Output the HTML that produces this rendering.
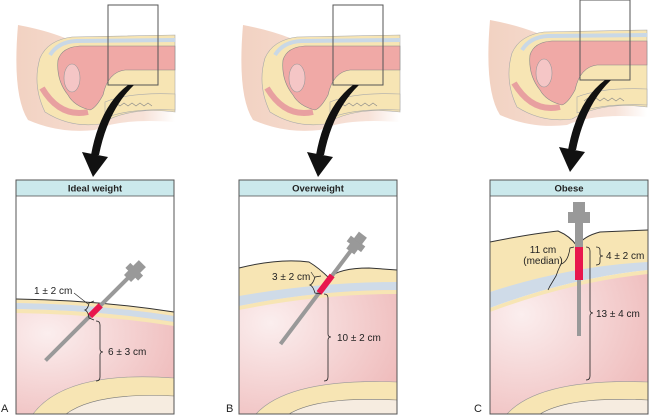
<!DOCTYPE html>
<html><head><style>
body{margin:0;background:#fff;}
svg{display:block;font-family:"Liberation Sans",sans-serif;}
</style></head><body>
<svg width="650" height="415" viewBox="0 0 650 415" xmlns="http://www.w3.org/2000/svg">
<defs>
<radialGradient id="pk" cx="0.2" cy="0.3" r="0.9"><stop offset="0" stop-color="#fbeeee"/><stop offset="1" stop-color="#efbcbc"/></radialGradient>
<linearGradient id="skin" x1="0" x2="1"><stop offset="0" stop-color="#f2d2c2"/><stop offset="0.8" stop-color="#f7e2d8"/><stop offset="1" stop-color="#fff"/></linearGradient>
<g id="top">
<path d="M18,25 Q45,30 65,38 L175,36 L175,122 Q120,118 95,130 Q60,134 28,120 Q12,95 18,25 Z" fill="url(#skin)"/>
<path d="M40,58 Q48,40 72,37 L175,35 L175,112 Q130,106 100,124 Q70,128 45,112 Q32,85 40,58 Z" fill="#f7e5b4" stroke="#aaa" stroke-width="0.6"/>
<path d="M50,55 Q58,42 76,41 L175,40" fill="none" stroke="#c9d8e6" stroke-width="4"/>
<path d="M58,60 Q62,47 80,46 L175,46 L175,70 L125,70 Q108,72 103,95 Q96,108 90,110 Q74,106 68,95 Q56,80 58,60 Z" fill="#f0a9a6" stroke="#888" stroke-width="0.6"/>
<ellipse cx="72" cy="78" rx="8" ry="14" fill="#f5c6c6" stroke="#999" stroke-width="0.6"/>
<path d="M42,88 Q60,118 88,112" fill="none" stroke="#e8a0a0" stroke-width="6"/>
<path d="M105,102 Q130,92 175,94 L175,110 Q130,108 105,118 Z" fill="#f7e5b4" stroke="#aaa" stroke-width="0.6"/>
<path d="M112,106 l4,-3 4,3 4,-3 4,3 4,-3 4,3 4,-3 4,3 4,-3 4,3" fill="none" stroke="#888" stroke-width="0.6"/>
</g>
</defs>

<use href="#top"/>
<rect x="108" y="5" width="50" height="80" fill="none" stroke="#555" stroke-width="1"/>
<use href="#top" x="225"/>
<rect x="333" y="5" width="50" height="80" fill="none" stroke="#555" stroke-width="1"/>
<g transform="translate(472,-5)"><use href="#top"/></g>
<rect x="580" y="0" width="50" height="80" fill="none" stroke="#555" stroke-width="1"/>

<g fill="#111">
<path d="M134,85 Q108,110 99,155 L91,155 Q100,106 128,85 Z"/><path d="M82,152 L108,157 L93,177 Z"/>
<path d="M359,85 Q333,110 324,155 L316,155 Q325,106 353,85 Z"/><path d="M307,152 L333,157 L318,177 Z"/>
<path d="M611,80 Q585,105 576,150 L568,150 Q577,101 605,80 Z"/><path d="M559,147 L585,152 L570,172 Z"/>
</g>

<!-- Panel A -->
<g transform="translate(16,180)">
<rect x="0" y="0" width="158" height="234" fill="#fff"/>
<path d="M0,119 Q80,120 158,132 L158,234 L0,234 Z" fill="url(#pk)"/>
<path d="M0,119 Q80,120 158,132 L158,136 Q80,124 0,123 Z" fill="#f7e5b4"/>
<path d="M0,123 Q80,124 158,136 L158,142 Q80,130 0,129 Z" fill="#cfdbe8"/>
<path d="M0,129 Q80,130 158,142 L158,146 Q80,134 0,133 Z" fill="#f7e5b4"/>
<path d="M0,119 Q80,120 158,132" fill="none" stroke="#333" stroke-width="1"/>
<path d="M17,234 Q50,190 158,198 L158,234 Z" fill="#f7e5b4" stroke="#999" stroke-width="0.6"/>
<path d="M50,234 Q80,212 158,216 L158,234 Z" fill="#f6ece0" stroke="#777" stroke-width="0.6"/>
<g transform="rotate(-45 79 131)">
<rect x="9" y="129" width="118" height="4" fill="#999"/>
<rect x="72" y="128" width="15" height="6" fill="#e8174d"/>
<rect x="125" y="126" width="12" height="10" fill="#999"/>
<rect x="131" y="122" width="7" height="18" fill="#999"/>
<rect x="137" y="126" width="9" height="10" fill="#999"/>
</g>
<path d="M78,121 L73,123 Q72,129 69,130 Q72,131 73,138 L78,140" fill="none" stroke="#222" stroke-width="0.8"/>
<path d="M72,124 L58,113" stroke="#222" stroke-width="0.6"/>
<text x="18" y="114" font-size="10" fill="#222">1 ± 2 cm</text>
<path d="M80,141 Q84,141 84,145 L84,169 Q84,172 87,172 Q84,172 84,175 L84,197 Q84,201 80,201" fill="none" stroke="#222" stroke-width="0.8"/>
<text x="92" y="175" font-size="10" fill="#222">6 ± 3 cm</text>
<rect x="0" y="0" width="158" height="16" fill="#cbe9ec" stroke="#555" stroke-width="0.8"/>
<text x="79" y="11.5" font-size="9.5" font-weight="bold" text-anchor="middle" fill="#222">Ideal weight</text>
<rect x="0" y="0" width="158" height="234" fill="none" stroke="#555" stroke-width="1"/>
</g>
<text x="1" y="412" font-size="11" fill="#222">A</text>

<!-- Panel B -->
<g transform="translate(239,180)">
<rect x="0" y="0" width="158" height="234" fill="#fff"/>
<path d="M0,118 Q80,104 158,104 L158,234 L0,234 Z" fill="url(#pk)"/>
<path d="M0,88 Q40,78 70,82 Q80,88 90,98 Q100,88 130,88 L158,90 L158,105 Q80,104 0,118 Z" fill="#f7e5b4"/>
<path d="M0,88 Q40,78 70,82 Q80,88 90,98 Q100,88 130,88 L158,90" fill="none" stroke="#333" stroke-width="1"/>
<path d="M0,116 Q80,102 158,102 L158,110 Q80,110 0,126 Z" fill="#cfdbe8"/>
<path d="M0,126 Q80,110 158,110 L158,114 Q80,114 0,130 Z" fill="#f7e5b4"/>
<path d="M17,234 Q50,198 158,202 L158,234 Z" fill="#f7e5b4" stroke="#999" stroke-width="0.6"/>
<path d="M50,234 Q80,216 158,220 L158,234 Z" fill="#f6ece0" stroke="#777" stroke-width="0.6"/>
<g transform="rotate(-53 86 105)">
<rect x="12" y="103" width="118" height="4" fill="#999"/>
<rect x="76" y="102" width="22" height="6" fill="#e8174d"/>
<rect x="128" y="100" width="12" height="10" fill="#999"/>
<rect x="134" y="96" width="7" height="18" fill="#999"/>
<rect x="140" y="100" width="9" height="10" fill="#999"/>
</g>
<path d="M82,96 L76,97 Q74,104 71,105 Q74,106 76,113 L82,114" fill="none" stroke="#222" stroke-width="0.8"/>
<path d="M76,98 L72,92" stroke="#222" stroke-width="0.6"/>
<text x="33" y="100" font-size="10" fill="#222">3 ± 2 cm</text>
<path d="M85,114 Q89,114 89,118 L89,154 Q89,157 92,157 Q89,157 89,160 L89,197 Q89,201 85,201" fill="none" stroke="#222" stroke-width="0.8"/>
<text x="98" y="161" font-size="10" fill="#222">10 ± 2 cm</text>
<rect x="0" y="0" width="158" height="16" fill="#cbe9ec" stroke="#555" stroke-width="0.8"/>
<text x="79" y="11.5" font-size="9.5" font-weight="bold" text-anchor="middle" fill="#222">Overweight</text>
<rect x="0" y="0" width="158" height="234" fill="none" stroke="#555" stroke-width="1"/>
</g>
<text x="226" y="412" font-size="11" fill="#222">B</text>

<!-- Panel C -->
<g transform="translate(490,180)">
<rect x="0" y="0" width="158" height="234" fill="#fff"/>
<path d="M0,132 Q80,98 158,92 L158,234 L0,234 Z" fill="url(#pk)"/>
<path d="M0,62 Q40,54 68,51 Q80,56 87,66 Q94,56 110,52 L158,50 L158,84 Q80,88 0,112 Z" fill="#f7e5b4"/>
<path d="M0,62 Q40,54 68,51 Q80,56 87,66 Q94,56 110,52 L158,50" fill="none" stroke="#333" stroke-width="1"/>
<path d="M0,112 Q80,86 158,82 L158,90 Q80,98 0,128 Z" fill="#cfdbe8"/>
<path d="M0,128 Q80,98 158,90 L158,94 Q80,102 0,132 Z" fill="#f7e5b4"/>
<path d="M17,234 Q50,198 158,202 L158,234 Z" fill="#f7e5b4" stroke="#999" stroke-width="0.6"/>
<path d="M50,234 Q80,216 158,220 L158,234 Z" fill="#f6ece0" stroke="#777" stroke-width="0.6"/>
<rect x="87" y="60" width="4" height="96" fill="#999"/>
<rect x="85" y="67" width="8" height="33" fill="#e8174d"/>
<rect x="85" y="43" width="8" height="24" fill="#999"/>
<rect x="78" y="32" width="22" height="11" fill="#999"/>
<rect x="83" y="22" width="12" height="10" fill="#999"/>
<path d="M84,67 L80,68 Q78,82 71,84 Q68,90 66,96 L60,106 L58,110" fill="none" stroke="#222" stroke-width="0.8"/>
<text x="53" y="73" font-size="10" fill="#222" text-anchor="middle">11 cm</text>
<text x="53" y="84" font-size="10" fill="#222" text-anchor="middle">(median)</text>
<path d="M106,67 Q110,67 110,70 L110,74 Q110,76 113,76 Q110,76 110,78 L110,82 Q110,85 106,85" fill="none" stroke="#222" stroke-width="0.8"/>
<text x="116" y="79" font-size="10" fill="#222">4 ± 2 cm</text>
<path d="M96,67 Q100,67 100,71 L100,130 Q100,133 103,133 Q100,133 100,136 L100,196 Q100,200 96,200" fill="none" stroke="#222" stroke-width="0.8"/>
<text x="106" y="137" font-size="10" fill="#222">13 ± 4 cm</text>
<rect x="0" y="0" width="158" height="16" fill="#cbe9ec" stroke="#555" stroke-width="0.8"/>
<text x="79" y="11.5" font-size="9.5" font-weight="bold" text-anchor="middle" fill="#222">Obese</text>
<rect x="0" y="0" width="158" height="234" fill="none" stroke="#555" stroke-width="1"/>
</g>
<text x="474" y="412" font-size="11" fill="#222">C</text>
</svg>
</body></html>
